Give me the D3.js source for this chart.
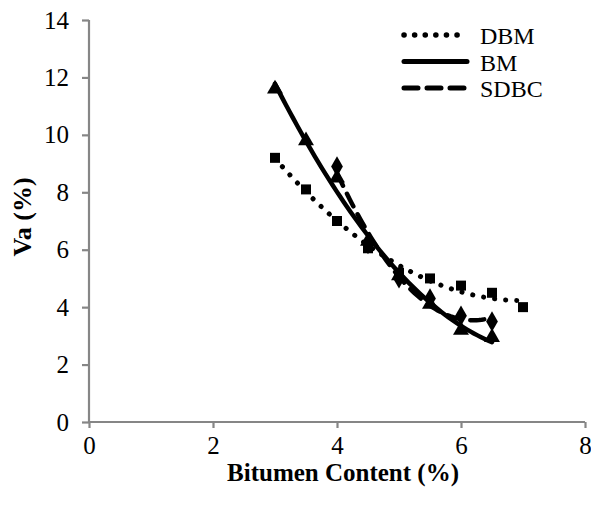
<!DOCTYPE html>
<html>
<head>
<meta charset="utf-8">
<script src="https://cdn.jsdelivr.net/npm/d3@7"></script>
<style>
  body { margin: 0; background: #fff; }
  text { font-family: "Liberation Serif", "Times New Roman", serif; fill: #000; }
</style>
</head>
<body>
<div id="viz"></div>
<script>
// values
var xTicks = [0, 2, 4, 6, 8];
var yTicks = [0, 2, 4, 6, 8, 10, 12, 14];

var dbmX = [3, 3.5, 4, 4.5, 5, 5.5, 6, 6.5, 7];
var dbmY = [9.2, 8.1, 7.0, 6.05, 5.2, 5.0, 4.75, 4.5, 4.0];

var bmX = [3, 3.5, 4, 4.5, 5, 5.5, 6, 6.5];
var bmY = [11.6, 9.8, 8.5, 6.3, 5.1, 4.1, 3.2, 2.95];

var sdbcX = [4, 4.5, 5, 5.5, 6, 6.5];
var sdbcY = [8.9, 6.2, 5.0, 4.3, 3.7, 3.5];

var seriesNames = ["DBM", "BM", "SDBC"];

var W = 591, H = 506;
var svg = d3.select("#viz").append("svg")
    .attr("width", W)
    .attr("height", H);

var x = d3.scaleLinear().domain([0, 8]).range([89, 585]);
var y = d3.scaleLinear().domain([0, 14]).range([422, 20]);

// axes
var xAxis = svg.append("g")
    .attr("transform", "translate(0," + y(0) + ")")
    .call(d3.axisBottom(x).tickValues(xTicks).tickSize(6).tickPadding(8));
var yAxis = svg.append("g")
    .attr("transform", "translate(" + x(0) + ",0)")
    .call(d3.axisLeft(y).tickValues(yTicks).tickSize(7).tickPadding(13));

[xAxis, yAxis].forEach(function(a){
    a.selectAll("path").attr("stroke", "#868686").attr("stroke-width", 2.2);
    a.selectAll("line").attr("stroke", "#868686").attr("stroke-width", 2.2);
    a.selectAll("text")
        .style("font-family", "'Liberation Serif', serif")
        .style("font-size", "25px")
        .attr("fill", "#000");
});
yAxis.selectAll("path").attr("d", "M0," + y(0) + "V" + y(14));
xAxis.selectAll("path").attr("d", "M0,0H" + (x(8) - x(0))).attr("transform", "translate(" + x(0) + ",0)");

// axis titles
svg.append("text")
    .attr("x", 343).attr("y", 481)
    .attr("text-anchor", "middle")
    .style("font-size", "25px").style("font-weight", "bold")
    .text("Bitumen Content (%)");
svg.append("text")
    .attr("transform", "translate(31,217) rotate(-90)")
    .attr("text-anchor", "middle")
    .style("font-size", "26px").style("font-weight", "bold")
    .text("Va (%)");

// quadratic least squares fit (like a spreadsheet trendline)
function quadFit(xs, ys){
    var s = [0,0,0,0,0], t = [0,0,0];
    xs.forEach(function(xv, i){
        for (var k = 0; k < 5; k++) s[k] += Math.pow(xv, k);
        for (var k = 0; k < 3; k++) t[k] += ys[i] * Math.pow(xv, k);
    });
    var m = [[s[0], s[1], s[2], t[0]], [s[1], s[2], s[3], t[1]], [s[2], s[3], s[4], t[2]]];
    for (var c = 0; c < 3; c++){
        for (var r = c + 1; r < 3; r++){
            var f = m[r][c] / m[c][c];
            for (var k = c; k < 4; k++) m[r][k] -= f * m[c][k];
        }
    }
    var b = [0,0,0];
    for (var r = 2; r >= 0; r--){
        var v = m[r][3];
        for (var k = r + 1; k < 3; k++) v -= m[r][k] * b[k];
        b[r] = v / m[r][r];
    }
    return function(xv){ return b[0] + b[1] * xv + b[2] * xv * xv; };
}

var series = [
    {name: "DBM", xs: dbmX, ys: dbmY, marker: d3.symbolSquare, size: 100, dash: "0.1 11", width: 5},
    {name: "BM", xs: bmX, ys: bmY, marker: d3.symbolTriangle, size: 110, dash: null, width: 4.5},
    {name: "SDBC", xs: sdbcX, ys: sdbcY, marker: d3.symbolDiamond, size: 120, dash: "14 9", width: 4.5}
];

// markers
series.forEach(function(s){
    svg.append("g").selectAll("path")
        .data(s.xs.map(function(xv, i){ return [xv, s.ys[i]]; }))
        .enter().append("path")
        .attr("d", d3.symbol().type(s.marker).size(s.size))
        .attr("transform", function(d){ return "translate(" + x(d[0]) + "," + y(d[1]) + ")"; })
        .attr("fill", "#000");
});

// trendlines
var line = d3.line().x(function(d){ return x(d[0]); }).y(function(d){ return y(d[1]); });
series.forEach(function(s){
    var f = quadFit(s.xs, s.ys);
    var x0 = d3.min(s.xs), x1 = d3.max(s.xs);
    var pts = d3.range(0, 61).map(function(i){ var xv = x0 + (x1 - x0) * i / 60; return [xv, f(xv)]; });
    svg.append("path")
        .attr("d", line(pts))
        .attr("fill", "none")
        .attr("stroke", "#000")
        .attr("stroke-width", s.width)
        .attr("stroke-linecap", "round")
        .attr("stroke-dasharray", s.dash);
});

// legend
var lg = svg.append("g");
series.forEach(function(s, i){
    var ly = 35 + i * 26.5;
    lg.append("line")
        .attr("x1", 404).attr("x2", 467)
        .attr("y1", ly).attr("y2", ly)
        .attr("stroke", "#000")
        .attr("stroke-width", s.width + 0.5)
        .attr("stroke-linecap", "round")
        .attr("stroke-dasharray", s.name === "DBM" ? "0.1 10.5" : s.dash);
    lg.append("text")
        .attr("x", 480).attr("y", ly + 9)
        .style("font-size", "24px")
        .text(seriesNames[i]);
});
</script>
</body>
</html>
